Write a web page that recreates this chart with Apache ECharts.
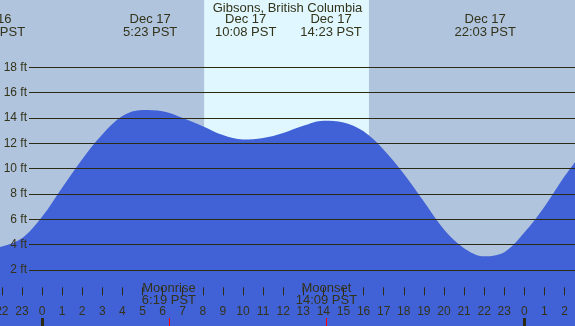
<!DOCTYPE html>
<html lang="en">
  <head>
    <meta charset="UTF-8" />
    <title>Gibsons tide</title>
    <script src="https://cdn.jsdelivr.net/npm/echarts/dist/echarts.min.js"></script>
    <style>
      html, body { margin: 0; padding: 0; }
      #main { width: 575px; height: 326px; }
    </style>
  </head>
  <body>
    <div id="main"></div>
    <script>
      // tide height, hour of Dec 17 -> feet
      const tideHours = [-3, -2, -1, 0, 1, 2, 3, 4, 5, 6, 7, 8, 9, 10, 11, 12, 13, 14, 15, 16, 17, 18, 19, 20, 21, 22, 23, 24, 25, 26, 27]
      const tideFeet = [3.6, 3.85, 4.5, 6.2, 8.5, 10.75, 12.7, 14.15, 14.62, 14.52, 14.0, 13.35, 12.65, 12.3, 12.42, 12.82, 13.38, 13.78, 13.65, 12.95, 11.5, 9.6, 7.4, 5.2, 3.72, 3.08, 3.4, 4.95, 7.0, 9.4, 11.5]

      // high / low tide events (top labels)
      const eventHours = [-2.367, 5.383, 10.133, 14.383, 22.05]
      const eventLabels = ["Dec 16\u00a0\u00a0\n21:38 PST", "Dec 17\n5:23 PST", "Dec 17\n10:08 PST", "Dec 17\n14:23 PST", "Dec 17\n22:03 PST"]

      // moon events (bottom labels)
      const moonHours = [6.317, 14.15]
      const moonLabels = ["Moonrise\n6:19 PST", "Moonset\n14:09 PST"]

      const sunrise = 8.067
      const sunset = 16.267
      const midnights = [0, 24]
      const hourTicks = [-2, -1, 0, 1, 2, 3, 4, 5, 6, 7, 8, 9, 10, 11, 12, 13, 14, 15, 16, 17, 18, 19, 20, 21, 22, 23, 24, 25, 26]

      const XMIN = -2.09, XMAX = 26.52
      const YMIN = -2.42, YMAX = 23.31
      const PX_PER_HOUR = 20.096
      const FONT = "Liberation Sans"
      const TXT = "#33331a"
      const LINE = "#2b2b14"

      const tide = tideHours.map((h, i) => [h, tideFeet[i]])
      const pick = (vals, labels) => (v) => {
        const i = vals.findIndex((x) => Math.abs(x - v) < 1e-6)
        return i < 0 ? "" : labels[i]
      }

      const chart = echarts.init(document.getElementById("main"))
      chart.setOption({
        animation: false,
        backgroundColor: "#b0c4de",
        title: {
          text: "Gibsons, British Columbia",
          left: "center",
          top: -3,
          textStyle: { fontFamily: FONT, fontSize: 13, fontWeight: "normal", color: TXT },
        },
        grid: [
          { left: 0, right: 0, top: 0, bottom: 0, outerBoundsMode: "none" },
          { left: 29, right: 0, top: 67.3, bottom: 56, outerBoundsMode: "none" },
          // same time scale, extended to the left so the cut-off first label fits
          { left: -3 * PX_PER_HOUR, right: 0, top: 0, bottom: 0, outerBoundsMode: "none" },
        ],
        xAxis: [
          {
            gridIndex: 0, type: "value", min: XMIN, max: XMAX, position: "bottom", z: 10,
            axisLine: { show: false },
            splitLine: { show: false },
            axisTick: { show: true, inside: true, length: 8, customValues: hourTicks, lineStyle: { color: LINE, width: 1 } },
            axisLabel: {
              show: true, inside: true, margin: 8, customValues: hourTicks,
              formatter: (v) => String(((v % 24) + 24) % 24),
              fontFamily: FONT, fontSize: 12, color: TXT,
            },
          },
          {
            gridIndex: 0, type: "value", min: XMIN, max: XMAX, position: "bottom", z: 11,
            axisLine: { show: false },
            splitLine: { show: false },
            axisTick: { show: true, inside: true, length: 8, customValues: moonHours, lineStyle: { color: "#ff0000", width: 1 } },
            axisLabel: {
              show: true, inside: true, margin: 20, customValues: moonHours,
              formatter: pick(moonHours, moonLabels),
              fontFamily: FONT, fontSize: 13, lineHeight: 12, color: TXT,
            },
          },
          {
            gridIndex: 0, type: "value", min: XMIN, max: XMAX, position: "bottom", z: 11,
            axisLine: { show: false },
            splitLine: { show: false },
            axisTick: { show: true, inside: true, length: 8, customValues: midnights, lineStyle: { color: LINE, width: 3 } },
            axisLabel: { show: false },
          },
          { gridIndex: 1, type: "value", min: 0, max: 1, show: false },
          {
            gridIndex: 2, type: "value", min: XMIN - 3, max: XMAX, position: "top", z: 10,
            axisLine: { show: false },
            splitLine: { show: false },
            axisTick: { show: false },
            axisLabel: {
              show: true, inside: true, margin: 13, customValues: eventHours,
              formatter: pick(eventHours, eventLabels),
              fontFamily: FONT, fontSize: 13, lineHeight: 13, color: TXT,
            },
          },
        ],
        yAxis: [
          { gridIndex: 0, type: "value", min: YMIN, max: YMAX, show: false },
          {
            gridIndex: 1, type: "value", min: 2, max: 18, interval: 2, z: 10,
            axisLine: { show: false },
            axisTick: { show: false },
            splitLine: { show: true, lineStyle: { color: LINE, width: 1 } },
            axisLabel: { formatter: "{value} ft", margin: 2, fontFamily: FONT, fontSize: 12, color: TXT },
          },
          { gridIndex: 2, type: "value", min: 0, max: 1, show: false },
        ],
        series: [
          {
            type: "line",
            xAxisIndex: 0,
            yAxisIndex: 0,
            data: tide,
            smooth: 0.35,
            symbol: "none",
            lineStyle: { width: 0 },
            areaStyle: { color: "#4161d6", opacity: 1, origin: "start" },
            markArea: {
              silent: true,
              itemStyle: { color: "#e0f7ff" },
              data: [[{ xAxis: sunrise }, { xAxis: sunset }]],
            },
          },
        ],
      })
    </script>
  </body>
</html>
